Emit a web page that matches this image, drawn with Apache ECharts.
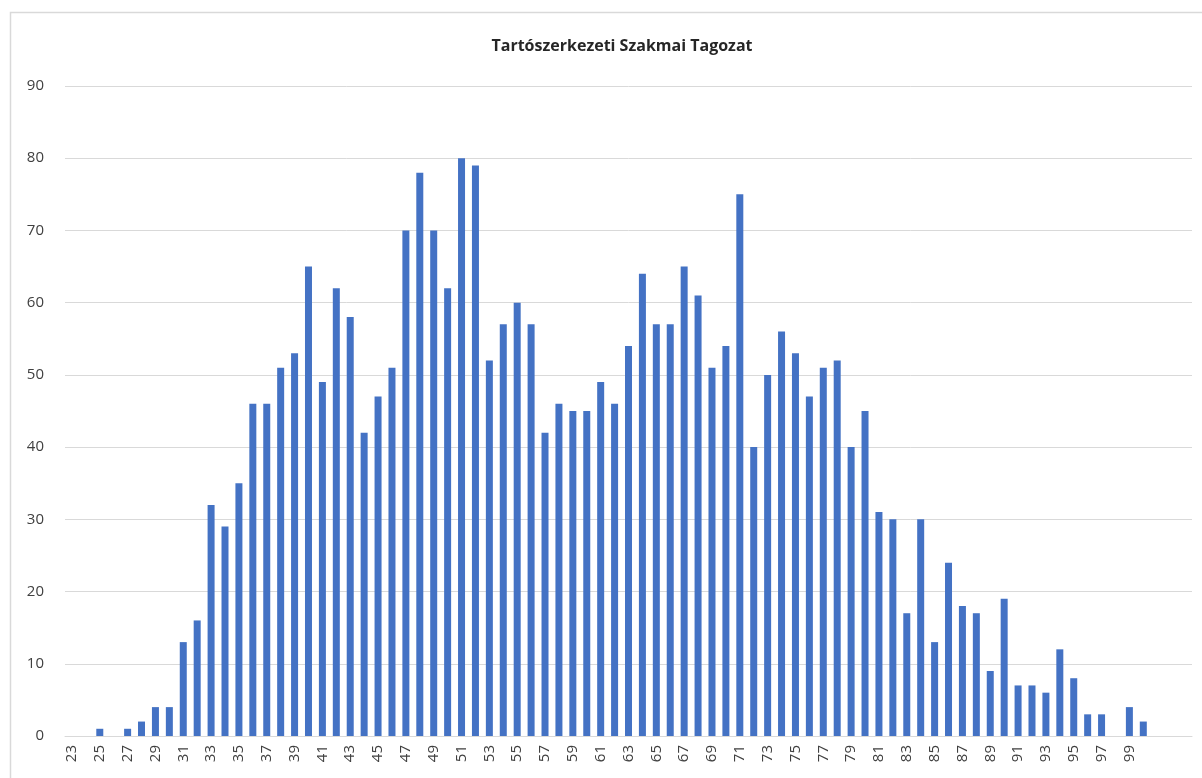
<!DOCTYPE html>
<html>
<head>
<meta charset="utf-8">
<script src="https://cdn.jsdelivr.net/npm/echarts@6/dist/echarts.min.js"></script>
<style>
  html, body { margin: 0; padding: 0; background: #fff; }
  #main { width: 1202px; height: 778px; }
</style>
</head>
<body>
<div id="main"></div>
<script>
// pontszám kategóriák (23..100, utána három üres hely)
var categories = [];
for (var i = 23; i <= 100; i++) categories.push(String(i));
categories.push('', '', '');

var counts = [
    0, 0, 1, 0, 1, 2, 4, 4, 13, 16,      // 23-32
    32, 29, 35, 46, 46, 51, 53, 65, 49, 62, // 33-42
    58, 42, 47, 51, 70, 78, 70, 62, 80, 79, // 43-52
    52, 57, 60, 57, 42, 46, 45, 45, 49, 46, // 53-62
    54, 64, 57, 57, 65, 61, 51, 54, 75, 40, // 63-72
    50, 56, 53, 47, 51, 52, 40, 45, 31, 30, // 73-82
    17, 30, 13, 24, 18, 17, 9, 19, 7, 7,    // 83-92
    6, 12, 8, 3, 3, 0, 4, 2,                // 93-100
    0, 0, 0
];

var yTicks = { min: 0, max: 90, step: 10 };

var myChart = echarts.init(document.getElementById('main'));

var option = {
    backgroundColor: '#ffffff',
    animation: false,
    title: {
        text: 'Tartószerkezeti Szakmai Tagozat',
        left: 617,
        top: 33,
        textAlign: 'center',
        textStyle: {
            fontFamily: 'Open Sans',
            fontSize: 16,
            fontWeight: 'bold',
            color: '#262626'
        }
    },
    graphic: [
        {
            type: 'rect',
            shape: { x: 10.5, y: 12.5, width: 1200, height: 775 },
            style: { fill: 'none', stroke: '#d9d9d9', lineWidth: 1.5 },
            z: -1
        }
    ],
    grid: {
        left: 65,
        right: 10,
        top: 86,
        bottom: 42
    },
    xAxis: {
        type: 'category',
        data: categories,
        axisLine: { show: true, lineStyle: { color: '#d9d9d9', width: 1 } },
        axisTick: { show: false },
        axisLabel: {
            interval: 1,
            rotate: 90,
            margin: 9,
            fontFamily: 'Open Sans',
            fontSize: 15,
            color: '#404040'
        }
    },
    yAxis: {
        type: 'value',
        min: yTicks.min,
        max: yTicks.max,
        interval: yTicks.step,
        axisLine: { show: false },
        axisTick: { show: false },
        splitLine: { lineStyle: { color: '#d9d9d9', width: 1 } },
        axisLabel: {
            margin: 21,
            fontFamily: 'Open Sans',
            fontSize: 15,
            color: '#404040'
        }
    },
    series: [
        {
            name: 'Tartószerkezeti Szakmai Tagozat',
            type: 'bar',
            data: counts,
            barWidth: 7,
            itemStyle: { color: '#4472c4' }
        }
    ]
};

myChart.setOption(option);
</script>
</body>
</html>
